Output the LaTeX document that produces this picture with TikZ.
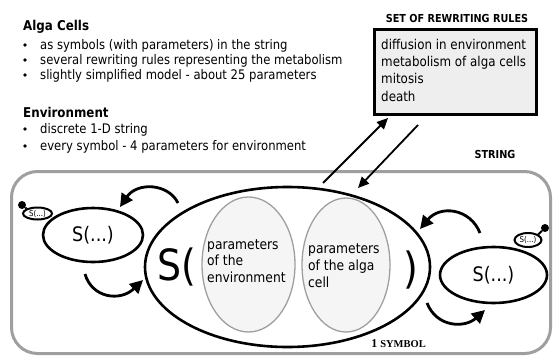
\documentclass[tikz,border=0pt]{standalone}
\usepackage{fontspec}
\setmainfont[FakeStretch=0.88]{DejaVu Sans}
\newfontfamily\symfont{Liberation Serif}
\usetikzlibrary{shapes.geometric,arrows.meta}
\begin{document}
\begin{tikzpicture}[x=1pt,y=-1pt,
  txt/.style={inner sep=0pt, anchor=base west, align=left, font=\fontsize{13.2}{16}\selectfont},
  hd/.style={inner sep=0pt, anchor=base west, font=\fontsize{13.5}{16}\selectfont\bfseries},
  lbl/.style={inner sep=0pt, anchor=base, font=\fontsize{11}{13}\selectfont\bfseries},
  bul/.style={circle, fill=black, inner sep=0pt, minimum size=3.8pt},
  ell/.style={ellipse, draw=black, line width=2.6pt, inner sep=0pt},
  tiny/.style={ellipse, draw=black, line width=2pt, inner sep=0pt, font=\fontsize{8}{8}\selectfont},
  dotn/.style={circle, fill=black, inner sep=0pt, minimum size=8pt},
  inell/.style={ellipse, draw=gray!75, fill=gray!8, line width=1.3pt, inner sep=0pt},
  partxt/.style={inner sep=0pt, anchor=base west, align=left},
  carr/.style={line width=2.8pt, -{Triangle[length=13pt,width=13pt]}},
  sarr/.style={line width=1.8pt, -{Triangle[length=11pt,width=10pt]}},
]
\useasboundingbox (0,0) rectangle (556,356);

% left text block
\node[hd] (h1) at (23,30) {Alga Cells};
\node[bul] (b1) at (25,45) {};
\node[bul] (b2) at (25,60) {};
\node[bul] (b3) at (25,75) {};
\node[txt] (t1) at (40,49) {as symbols (with parameters) in the string};
\node[txt] (t2) at (40,64) {several rewriting rules representing the metabolism};
\node[txt] (t3) at (40,79) {slightly simplified model - about 25 parameters};
\node[hd] (h2) at (23,117) {Environment};
\node[bul] (b4) at (25,129) {};
\node[bul] (b5) at (25,146) {};
\node[txt] (t4) at (40,133) {discrete 1-D string};
\node[txt] (t5) at (40,150) {every symbol - 4 parameters for environment};

% rules box
\node[lbl] (rtitle) at (457,22) {SET OF REWRITING RULES};
\node[draw=black, line width=3pt, fill=gray!13, minimum width=162pt, minimum height=85pt, inner sep=0pt, anchor=north west] (rules) at (373,28) {};
\node[txt, font=\fontsize{13.5}{17.3}\selectfont] (rtext) at (381,101) {diffusion in environment\\metabolism of alga cells\\mitosis\\death};

% string
\node[lbl] (strlbl) at (495,158) {STRING};
\node[draw=gray!75, line width=3pt, rounded corners=26pt, minimum width=539pt, minimum height=182pt, inner sep=0pt, anchor=north west] (string) at (10,170) {};

% big symbol
\node[ell, minimum width=285pt, minimum height=160pt] (sym) at (287.5,267) {};
\node[inell, minimum width=93pt, minimum height=135pt] (env) at (248.5,264.5) {};
\node[inell, minimum width=88pt, minimum height=134pt] (alga) at (346,265) {};
\node[partxt, font=\fontsize{14}{16.5}\selectfont] (envtxt) at (207,282) {parameters\\of the\\environment};
\node[partxt, font=\fontsize{14}{17}\selectfont] (algatxt) at (308,287) {parameters\\of the alga\\cell};
\node[partxt, font=\fontsize{43}{43}\selectfont] (sopen) at (157,280) {S(};
\node[partxt, font=\fontsize{43}{43}\selectfont] (sclose) at (403,283) {)};
\node[inner sep=0pt, anchor=base, font=\symfont\bfseries\fontsize{12}{12}\selectfont] (onesym) at (398.5,347) {1 \fontsize{10.5}{12}\selectfont SYMBOL};

% neighbour symbols
\node[ell, minimum width=100pt, minimum height=54pt, font=\fontsize{20}{20}\selectfont] (lS) at (93,235) {S(...)};
\node[ell, minimum width=107pt, minimum height=56pt, font=\fontsize{20}{20}\selectfont] (rS) at (493.5,275) {S(...)};
\node[tiny, fill=white, minimum width=29pt, minimum height=12pt] (lt) at (37.5,213.5) {S(...)};
\node[tiny, fill=white, minimum width=27pt, minimum height=14pt] (rt) at (528,240) {S(...)};
\node[dotn] (ld) at (22,205) {};
\node[dotn] (rd) at (545,228) {};
\draw[line width=2pt] (ld) -- (lt.north west);
\draw[line width=2pt] (rd) -- (rt.north east);

% curved arrows
\coordinate (c1s) at (178,203); \coordinate (c1e) at (120,207);
\coordinate (c2s) at (85,274);  \coordinate (c2e) at (143,280);
\coordinate (c3s) at (480,233); \coordinate (c3e) at (420,229);
\coordinate (c4s) at (427,303); \coordinate (c4e) at (485,310);
\draw[carr] (c1s) .. controls (168,183) and (137,182) .. (c1e);
\draw[carr] (c2s) .. controls (92,298) and (120,302) .. (c2e);
\draw[carr] (c3s) .. controls (470,208) and (440,205) .. (c3e);
\draw[carr] (c4s) .. controls (437,328) and (465,328) .. (c4e);

% straight arrows
\coordinate (a1s) at (323,183); \coordinate (a1e) at (388,118);
\coordinate (a2s) at (418,125); \coordinate (a2e) at (358,188);
\draw[sarr] (a1s) -- (a1e);
\draw[sarr] (a2s) -- (a2e);
\end{tikzpicture}
\end{document}
